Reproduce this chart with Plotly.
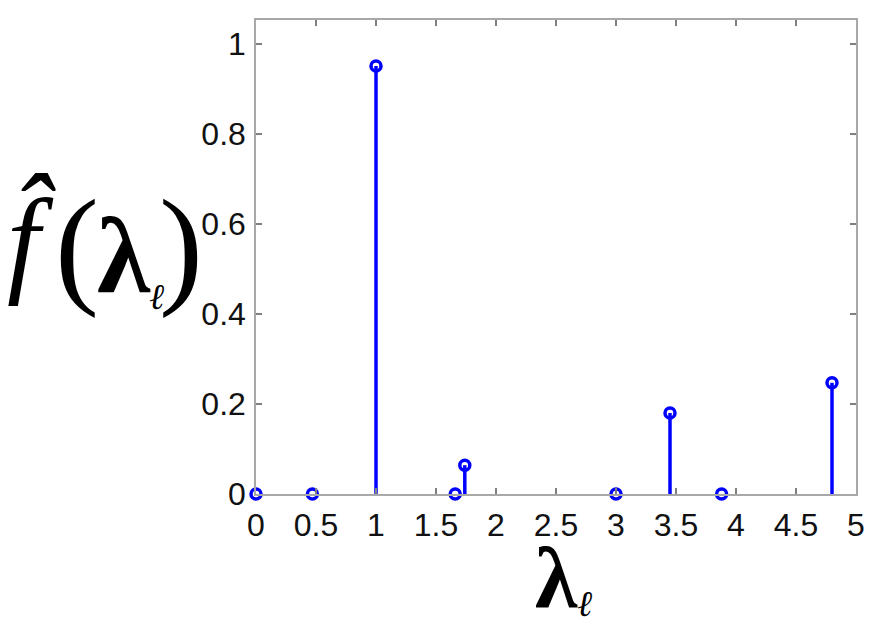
import plotly.graph_objects as go

lam = [0.0, 0.47, 1.0, 1.66, 1.74, 3.0, 3.45, 3.88, 4.8]
fhat = [0.0, 0.0, 0.951, 0.0, 0.064, 0.0, 0.18, 0.0, 0.247]
xticks = [0, 0.5, 1, 1.5, 2, 2.5, 3, 3.5, 4, 4.5, 5]
xticklabels = ["0", "0.5", "1", "1.5", "2", "2.5", "3", "3.5", "4", "4.5", "5"]
yticks = [0, 0.2, 0.4, 0.6, 0.8, 1]
yticklabels = ["0", "0.2", "0.4", "0.6", "0.8", "1"]

OFF = 8  # page body margin
W, H = 872 - 2 * OFF, 632 - 2 * OFF
L, T = 256 - OFF, 20 - OFF
R = W - (856 - OFF)
B = H - (494 - OFF)

stem_x, stem_y = [], []
for xv, yv in zip(lam, fhat):
    stem_x += [xv, xv, None]
    stem_y += [0, yv, None]

fig = go.Figure()
fig.add_trace(go.Scatter(x=stem_x, y=stem_y, mode="lines",
                         line=dict(color="#0000ff", width=3.5), hoverinfo="skip",
                         showlegend=False, cliponaxis=False))
fig.add_trace(go.Scatter(x=lam, y=fhat, mode="markers",
                         marker=dict(symbol="circle-open", size=10, color="#0000ff",
                                     line=dict(width=3.5, color="#0000ff")),
                         showlegend=False, cliponaxis=False))

axis_common = dict(showgrid=False, zeroline=False, showline=True, linecolor="#a8a8a8",
                   linewidth=1.5, mirror="ticks", ticks="inside", ticklen=6,
                   tickcolor="#808080", tickwidth=1.5, automargin=False,
                   ticklabeloverflow="allow",
                   tickfont=dict(family="Liberation Sans, Arial", size=32, color="#111111"))
fig.update_xaxes(range=[0, 5], tickvals=xticks, ticktext=xticklabels, ticklabelstandoff=2,
                 **axis_common)
fig.update_yaxes(range=[0, 1.053], tickvals=yticks, ticktext=yticklabels,
                 ticklabelstandoff=2, **axis_common)

def px(xs):
    return (xs - OFF - L) / (W - L - R)

def py(ys):
    return (H - B - (ys - OFF)) / (H - T - B)

serif = "Liberation Serif, Times New Roman, serif"
ann = [
    dict(text="<i>f\u0302</i>", x=px(31), y=py(240), size=118),
    dict(text="(", x=px(77), y=py(246), size=132),
    dict(text="<b>\u03bb</b>", x=px(124), y=py(255), size=108),
    dict(text="<i>\u2113</i>", x=px(156), y=py(297), size=36),
    dict(text=")", x=px(181), y=py(246), size=132),
    dict(text="<b>\u03bb</b>", x=px(556), y=py(578), size=86),
    dict(text="<i>\u2113</i>", x=px(584), y=py(604), size=36),
]
for a in ann:
    fig.add_annotation(text=a["text"], x=a["x"], y=a["y"], xref="paper", yref="paper",
                       xanchor="center", yanchor="middle", showarrow=False,
                       font=dict(family=serif, size=a["size"], color="#000000"))

fig.update_layout(width=W, height=H, margin=dict(l=L, r=R, t=T, b=B),
                  plot_bgcolor="white", paper_bgcolor="white")
fig.write_html("out.html")
